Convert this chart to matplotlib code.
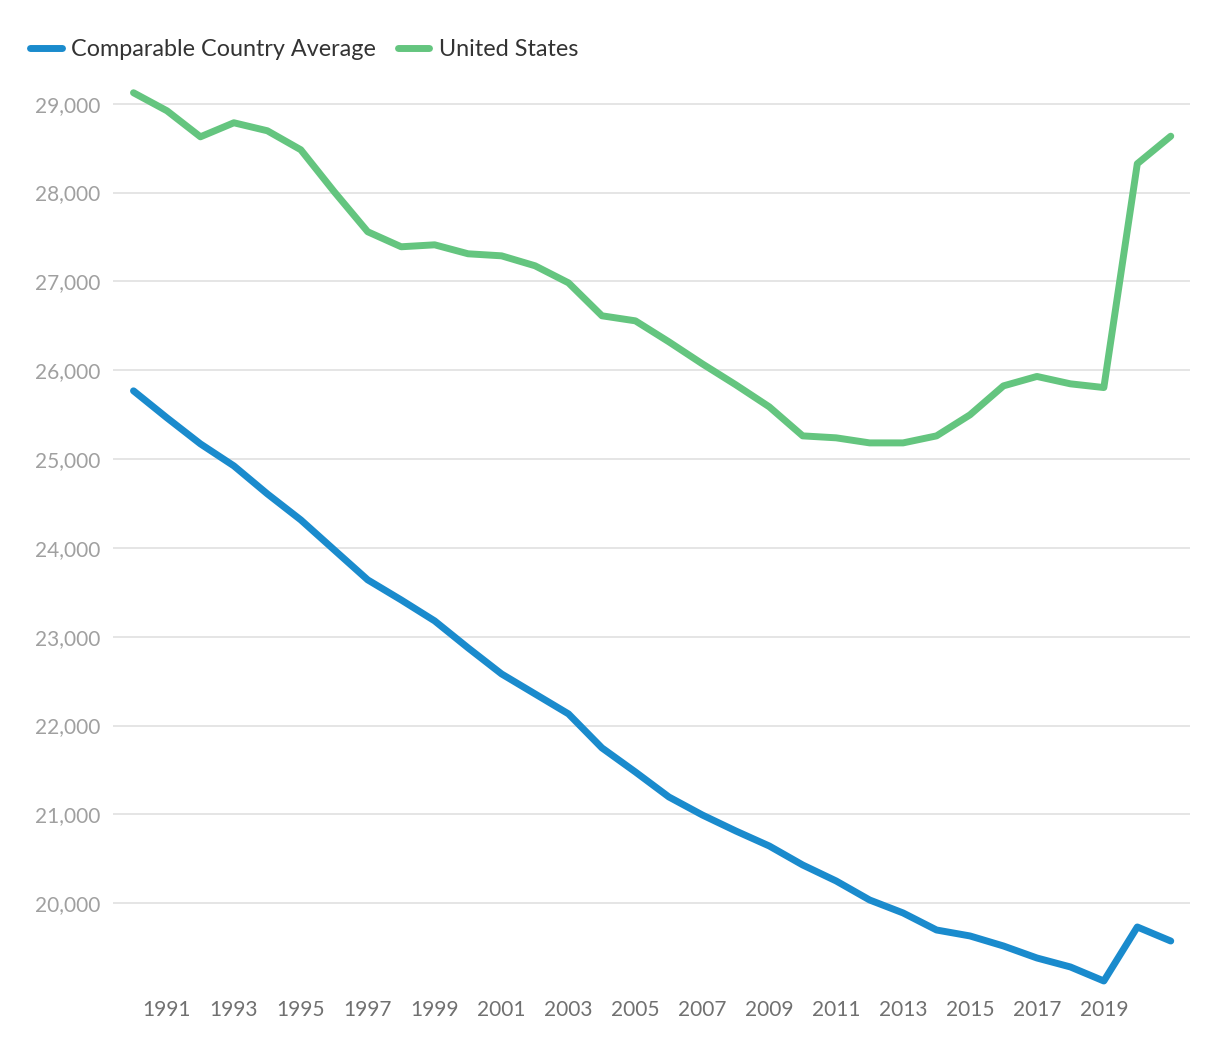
import matplotlib
matplotlib.use("Agg")
import matplotlib.pyplot as plt
from matplotlib.ticker import FuncFormatter

years = list(range(1990, 2022))

comparable = [25768, 25464, 25171, 24923, 24608, 24315, 23977, 23640, 23414, 23178,
              22874, 22581, 22356, 22131, 21748, 21477, 21196, 20993, 20813, 20644,
              20430, 20250, 20036, 19890, 19698, 19631, 19518, 19383, 19282, 19124,
              19732, 19574]

united_states = [29124, 28921, 28628, 28786, 28696, 28482, 28009, 27559, 27390, 27412,
                 27311, 27288, 27176, 26984, 26613, 26556, 26320, 26072, 25836, 25588,
                 25261, 25239, 25182, 25182, 25261, 25498, 25824, 25930, 25847, 25805,
                 28325, 28635]

x_ticks = list(range(1991, 2020, 2))
y_ticks = list(range(20000, 29001, 1000))

plt.rcParams['font.family'] = ['Lato', 'DejaVu Sans']

fig = plt.figure(figsize=(12.2, 10.52), dpi=100)
# axes spans pixel x 113..1190, y 86..992
ax = fig.add_axes([113 / 1220, 1 - 992 / 1052, 1077 / 1220, (992 - 86) / 1052])

blue = '#1A8BCD'
green = '#64C57F'

ax.plot(years, comparable, color=blue, lw=5, solid_capstyle='round',
        solid_joinstyle='round', label='Comparable Country Average')
ax.plot(years, united_states, color=green, lw=5, solid_capstyle='round',
        solid_joinstyle='round', label='United States')

x0 = 1990 - (133.5 - 113) / 33.46
x1 = 1990 + (1190 - 133.5) / 33.46
ax.set_xlim(x0, x1)
ax.set_ylim(19000, 29200)
ax.set_xticks(x_ticks)
ax.set_yticks(y_ticks)
ax.yaxis.set_major_formatter(FuncFormatter(lambda v, p: f"{int(v):,}"))

ax.grid(axis='y', color='#e3e3e3', lw=1.3)
ax.set_axisbelow(True)
for s in ax.spines.values():
    s.set_visible(False)

ax.tick_params(axis='y', length=0, pad=9, labelsize=15, labelcolor='#a0a0a0')
ax.tick_params(axis='x', length=0, pad=6, labelsize=15, labelcolor='#707070')

leg = ax.legend(loc='center left', bbox_to_anchor=(30 / 1220, 1 - 50 / 1052),
                bbox_transform=fig.transFigure, ncol=2, frameon=False,
                borderpad=0, borderaxespad=0,
                handlelength=1.35, handletextpad=0.4, columnspacing=0.95,
                fontsize=16.8)
for t in leg.get_texts():
    t.set_color('#333333')

fig.savefig('out.png', dpi=100, facecolor='white')
